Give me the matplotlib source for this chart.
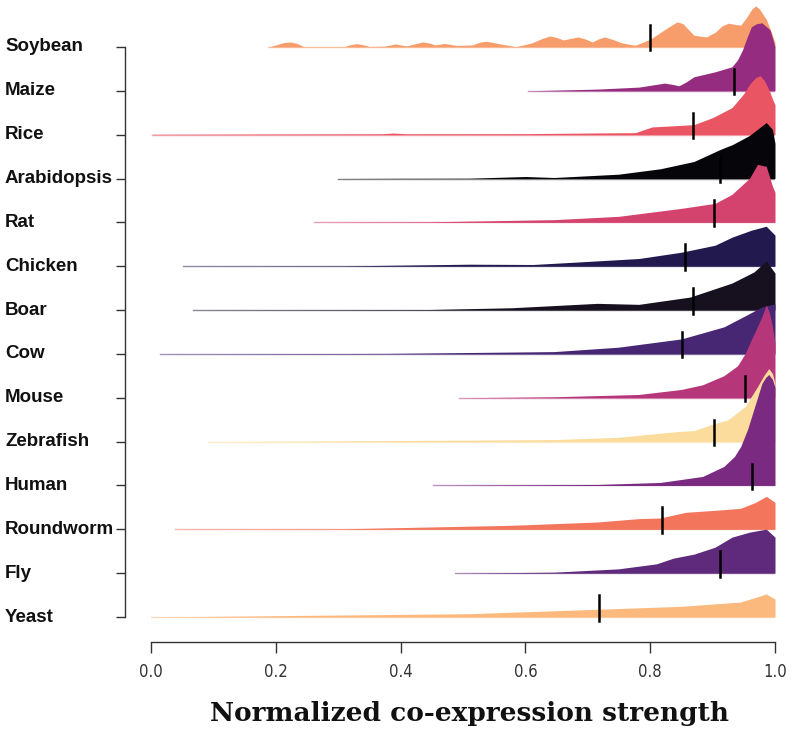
import matplotlib
matplotlib.use("Agg")
import matplotlib.pyplot as plt
import matplotlib.transforms as mtransforms

# species from top to bottom
species = ["Soybean", "Maize", "Rice", "Arabidopsis", "Rat", "Chicken", "Boar",
           "Cow", "Mouse", "Zebrafish", "Human", "Roundworm", "Fly", "Yeast"]
colors = ["#F79C6B", "#952C80", "#E95562", "#060509", "#D4436E", "#221A4F", "#16101F",
          "#472773", "#B6367A", "#FBDC9C", "#7A2A80", "#F3765C", "#5F2A7C", "#FBB97D"]
medians = [0.80, 0.935, 0.868, 0.912, 0.902, 0.856, 0.868,
           0.851, 0.952, 0.902, 0.963, 0.819, 0.912, 0.718]

# density outlines (x, height in pixels)
soy_x = [0.188, 0.200, 0.212, 0.223, 0.234, 0.245, 0.31, 0.320, 0.330, 0.340, 0.35, 0.375,
         0.391, 0.41, 0.425, 0.436, 0.447, 0.455, 0.470, 0.49, 0.515, 0.527, 0.537, 0.548,
         0.56, 0.585, 0.61, 0.625, 0.639, 0.650, 0.661, 0.672, 0.684, 0.696, 0.707, 0.717,
         0.727, 0.740, 0.755, 0.776, 0.80, 0.82, 0.835, 0.843, 0.852, 0.862, 0.870, 0.89,
         0.905, 0.915, 0.925, 0.945, 0.955, 0.963, 0.969, 0.975, 0.986, 0.994, 1.0]
soy_h = [0, 2, 4.3, 5, 3.5, 0.3, 0.3, 2.4, 3.3, 2.2, 0.5, 0.8, 3, 1, 3.5, 5, 3.8, 2, 3.5, 1.5,
         2, 4.8, 5.7, 4.5, 3, 0.3, 4, 8, 11, 9.5, 7, 8.5, 10, 8, 5, 8, 10, 7.5, 4, 1.7, 7.7,
         16, 22, 25, 23.5, 17, 11.7, 10, 15, 21, 23.7, 21.7, 30, 38, 41, 38, 27.7, 15, 4.3]
maize_x = [0.604, 0.715, 0.782, 0.823, 0.835, 0.846, 0.858, 0.870, 0.904, 0.931, 0.940,
           0.948, 0.955, 0.962, 0.970, 0.979, 0.992, 1.0]
maize_h = [0, 1.7, 3.7, 7.7, 6.5, 5, 9, 14, 19, 24, 31, 41, 53, 64, 67, 68, 61, 44]
rice_x = [0.002, 0.2, 0.37, 0.388, 0.41, 0.6, 0.715, 0.776, 0.803, 0.870, 0.90, 0.931,
          0.95, 0.960, 0.969, 0.976, 0.983, 0.991, 0.997, 1.0]
rice_h = [0.4, 0.7, 0.9, 1.6, 0.9, 1.0, 1.7, 2, 7.7, 10, 17, 27, 41, 51, 57, 59, 54, 44,
          34, 30]
arab_x = [0.30, 0.40, 0.51, 0.60, 0.646, 0.749, 0.816, 0.870, 0.912, 0.932, 0.959,
          0.986, 0.996, 1.0]
arab_h = [0, 0.2, 0.3, 2, 1, 4.3, 9.7, 17, 29, 34, 43, 56, 49, 35]
rat_x = [0.262, 0.443, 0.646, 0.749, 0.85, 0.904, 0.931, 0.959, 0.972, 0.986, 0.996, 1.0]
rat_h = [0, 0.5, 2.7, 6, 14, 19, 28, 44, 58, 56, 36, 30]
chick_x = [0.051, 0.306, 0.51, 0.612, 0.687, 0.782, 0.85, 0.904, 0.931, 0.962, 0.986, 1.0]
chick_h = [0, 0.3, 2, 1.7, 4.3, 7.7, 14, 21, 29, 36, 40, 31]
boar_x = [0.068, 0.443, 0.578, 0.715, 0.782, 0.864, 0.931, 0.966, 0.986, 1.0]
boar_h = [0, 0.5, 2.3, 6.7, 5.7, 13, 27, 38, 49, 37]
cow_x = [0.014, 0.375, 0.646, 0.749, 0.85, 0.918, 0.952, 0.979, 1.0]
cow_h = [0, 0.5, 2.3, 6.7, 15, 27, 38, 47, 50]
mouse_x = [0.494, 0.646, 0.782, 0.85, 0.884, 0.918, 0.940, 0.952, 0.962, 0.971, 0.979,
           0.986, 0.991, 0.996, 1.0]
mouse_h = [0, 1, 3.3, 8.3, 13, 22, 32, 44, 58, 70, 81, 93, 85, 71, 55]
zebra_x = [0.091, 0.375, 0.646, 0.749, 0.843, 0.87, 0.898, 0.925, 0.952, 0.972, 0.982,
           0.99, 0.996, 1.0]
zebra_h = [0, 1, 2, 4.3, 10, 11, 17, 22, 35, 55, 66, 73, 68, 58]
human_x = [0.452, 0.715, 0.816, 0.884, 0.918, 0.935, 0.945, 0.956, 0.966, 0.973, 0.979,
           0.985, 0.99, 0.996, 1.0]
human_h = [0, 1, 3, 9, 19, 29, 39, 56, 76, 90, 102, 108, 111, 106, 98]
worm_x = [0.038, 0.306, 0.578, 0.715, 0.782, 0.816, 0.857, 0.904, 0.945, 0.969, 0.986, 1.0]
worm_h = [0, 0.5, 4, 7.3, 10.7, 11.3, 17, 19, 21, 27, 33, 27]
fly_x = [0.487, 0.646, 0.749, 0.81, 0.837, 0.87, 0.904, 0.931, 0.959, 0.986, 1.0]
fly_h = [0, 1, 4.3, 9.3, 15, 19, 26, 36, 41, 44, 36]
yeast_x = [0.0, 0.306, 0.51, 0.715, 0.85, 0.945, 0.986, 1.0]
yeast_h = [0, 2, 3.3, 7.7, 10.7, 15, 23, 18]

xs = [soy_x, maize_x, rice_x, arab_x, rat_x, chick_x, boar_x,
      cow_x, mouse_x, zebra_x, human_x, worm_x, fly_x, yeast_x]
hs = [soy_h, maize_h, rice_h, arab_h, rat_h, chick_h, boar_h,
      cow_h, mouse_h, zebra_h, human_h, worm_h, fly_h, yeast_h]

row_px = 43.85  # pixel height of one row, used to scale the densities
n = len(species)

fig = plt.figure(figsize=(7.95, 7.32), dpi=100)
ax = fig.add_axes([151 / 795, 90 / 732, 624 / 795, 642 / 732])

for i, name in enumerate(species):
    base = n - 1 - i
    top = [base + h / row_px for h in hs[i]]
    z = 2 + i * 2
    ax.fill_between(xs[i], base, top, color=colors[i], lw=0, zorder=z)
    ax.plot([xs[i][0], 1.0], [base, base], color=colors[i], lw=1, alpha=0.5, zorder=z)
    ax.plot([medians[i], medians[i]], [base - 0.08, base + 0.5], color="black",
            lw=1.8, zorder=z + 1)

ax.set_xlim(0, 1)
ax.set_ylim(-0.57, 617 / row_px)

for s in ["top", "right"]:
    ax.spines[s].set_visible(False)
ax.spines["left"].set_position(("outward", 26 * 0.72))
ax.spines["left"].set_bounds(0, n - 1)
ax.spines["bottom"].set_bounds(0, 1)
for s in ["left", "bottom"]:
    ax.spines[s].set_color("#333333")
    ax.spines[s].set_linewidth(1)

ax.set_xticks([0.0, 0.2, 0.4, 0.6, 0.8, 1.0])
ax.set_xticklabels(["0.0", "0.2", "0.4", "0.6", "0.8", "1.0"],
                   family=["Liberation Sans Narrow", "DejaVu Sans"], stretch="condensed",
                   fontsize=12, color="#333333")
ax.tick_params(axis="x", direction="out", length=8, width=1, color="#333333", pad=7)

ax.set_yticks(range(n))
ax.set_yticklabels([])
ax.tick_params(axis="y", direction="out", length=6.5, width=1, color="#333333")

trans = mtransforms.blended_transform_factory(fig.transFigure, ax.transData)
for i, name in enumerate(species):
    ax.text(5 / 795, n - 1 - i, name, transform=trans, ha="left", va="center",
            fontsize=13.5, fontweight="bold", family=["Liberation Sans", "DejaVu Sans"],
            color="#111111")

fig.text(470 / 795, 1 - 713 / 732, "Normalized co-expression strength", ha="center",
         va="center", fontsize=19, fontweight="bold", family="DejaVu Serif",
         color="#111111")

fig.savefig("out.png", dpi=100, facecolor="white")
